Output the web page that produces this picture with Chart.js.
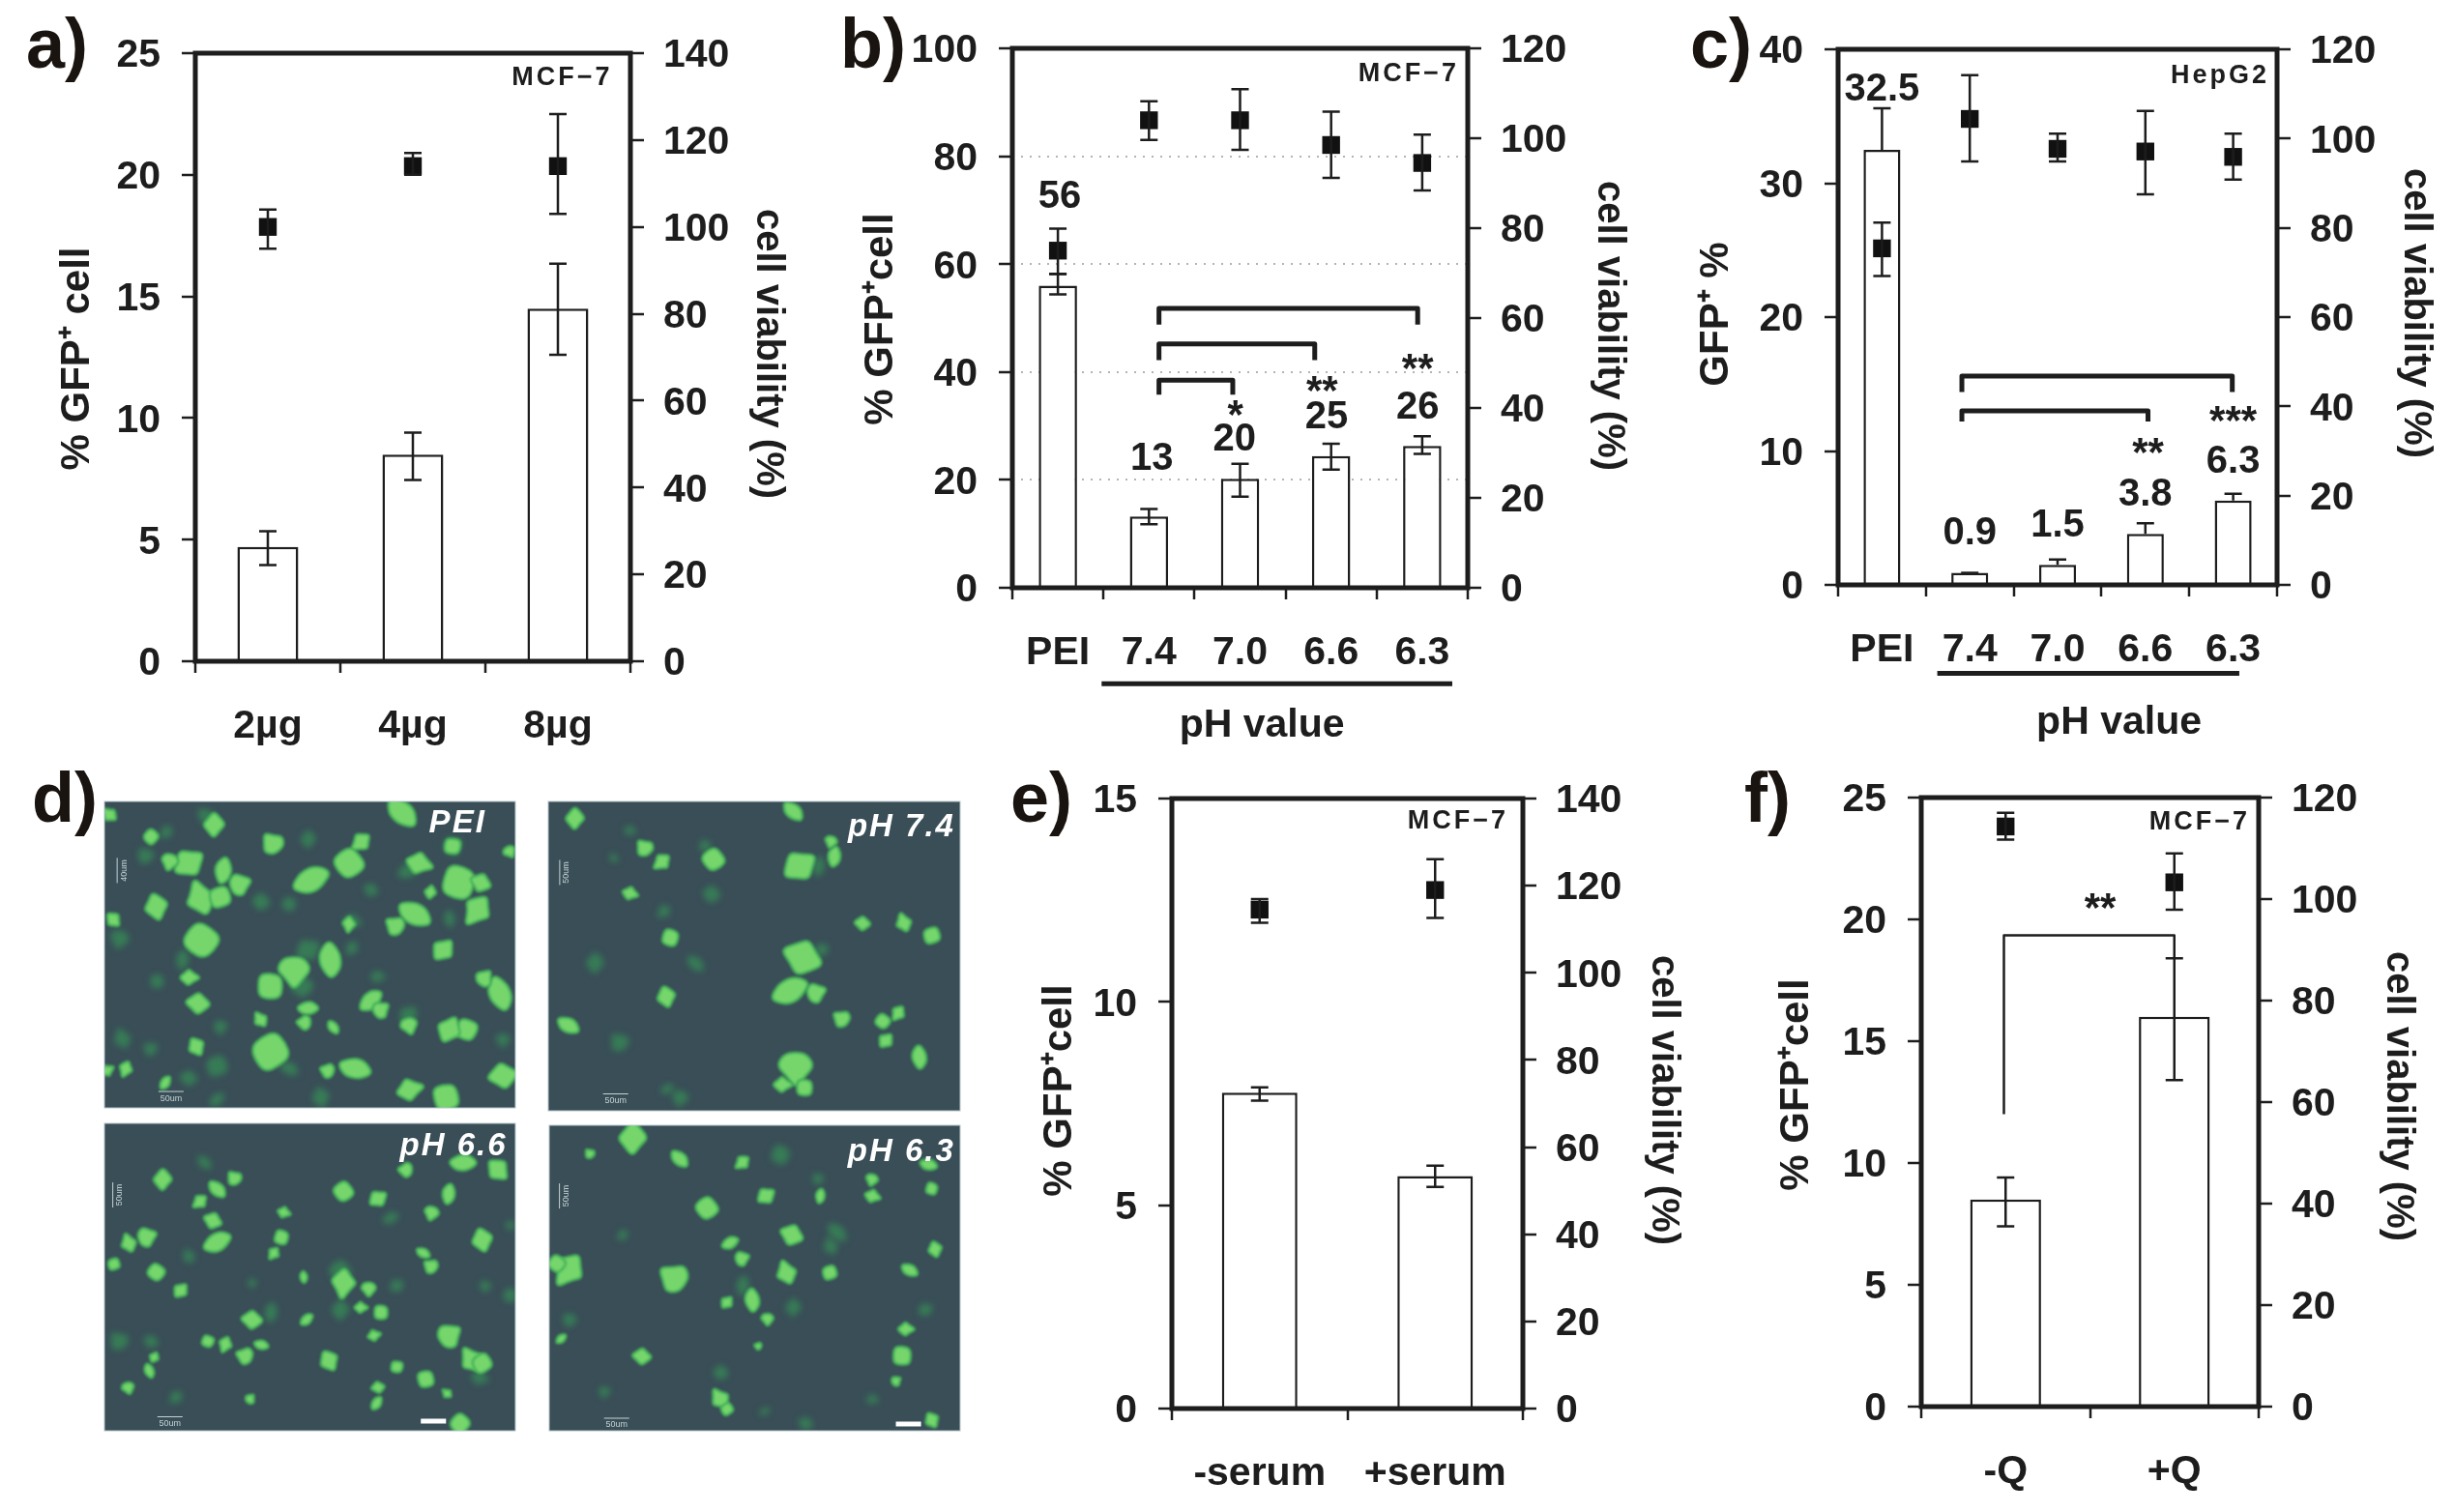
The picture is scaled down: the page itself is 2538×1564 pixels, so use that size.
<!DOCTYPE html>
<html><head><meta charset="utf-8">
<script src="https://cdn.jsdelivr.net/npm/chart.js@4/dist/chart.umd.js"></script>
<style>html,body{margin:0;padding:0;background:#fff;width:2538px;height:1564px;overflow:hidden}
canvas{position:absolute;left:0;top:0;pointer-events:none}</style>
</head><body>
<script>
// ---------- panel a ----------
const aCats=['2µg','4µg','8µg'];
const aGfp=[4.7,8.5,14.5], aGfpLow=[3.95,7.45,12.6], aGfpHigh=[5.35,9.4,16.35];
const aVia=[100,114,114], aViaLow=[95,112,103], aViaHigh=[104,117,126];
const aNotes=[['MCF−7',2.03,24,'cell']];
// ---------- panel b ----------
const bCats=['PEI','7.4','7.0','6.6','6.3'];
const bGfp=[56,13.2,20.2,24.4,26.3], bGfpLow=[54.4,11.8,16.9,21.9,24.8], bGfpHigh=[58.2,14.6,23,26.7,28.1];
const bVia=[75,104,104,98.5,94.5], bViaLow=[69.8,99.6,97.4,91.2,88.4], bViaHigh=[79.9,108.2,110.9,105.9,100.8];
const bNotes=[['MCF−7',3.85,95.2,'cell'],['56',0.02,73],['13',1.03,24.4],['20',1.94,27.9],['*',1.95,33],['25',2.95,32.1],['**',2.9,37.6],['26',3.95,33.8],['**',3.95,41.7],['pH value',2.24,-25.4]];
const bBrackets=[[1.11,3.95,51.8,48.8,48.8],[1.11,2.82,45.2,42.2,42.2],[1.11,1.92,38.5,35.8,35.8]];
const bRule=[0.48,4.33,-17.8];
// ---------- panel c ----------
const cCats=['PEI','7.4','7.0','6.6','6.3'];
const cGfp=[32.5,0.9,1.5,3.8,6.3], cGfpLow=[32.5,0.9,1.5,3.8,6.3], cGfpHigh=[35.6,0.9,1.9,4.6,6.8];
const cVia=[75.4,104.4,97.7,97.1,95.9], cViaLow=[69.2,94.9,94.9,87.5,90.8], cViaHigh=[81.2,114.2,101.1,106.2,101.1];
const cNotes=[['HepG2',3.85,38,'cell'],['32.5',0,37],['0.9',1,4.06],['1.5',2,4.6],['3.8',3,6.9],['**',3.03,10.3],['6.3',4,9.4],['***',4,12.7],['pH value',2.7,-10.2]];
const cBrackets=[[0.91,3.99,15.6,14.4,14.4],[0.91,3.03,13,12.2,12.2]];
const cRule=[0.63,4.07,-6.6];
// ---------- panel e ----------
const eCats=['-serum','+serum'];
const eGfp=[7.77,5.72], eGfpLow=[7.57,5.45], eGfpHigh=[7.9,5.97];
const eVia=[114.5,119], eViaLow=[111.5,112.6], eViaHigh=[116.9,126.1];
const eNotes=[['MCF−7',1.13,14.43,'cell']];
// ---------- panel f ----------
const fCats=['-Q','+Q'];
const fGfp=[8.5,16], fGfpLow=[7.4,13.4], fGfpHigh=[9.4,18.4];
const fVia=[114.3,103.3], fViaLow=[111.7,97.9], fViaHigh=[117,109];
const fNotes=[['MCF−7',1.15,24,'cell'],['**',0.56,20.7]];
const fBrackets=[[-0.01,1.0,19.35,12,18.4]];
const peiBright=[[340,145,9],[640,120,12],[435,185,9],[575,180,8],[555,225,12],[300,225,12],[355,240,9],[270,220,7],[665,225,10],[730,265,14],[765,265,8],[495,260,13],[380,270,9],[320,300,13],[350,295,9],[248,315,10],[660,330,12],[630,355,8],[760,320,12],[320,385,14],[705,405,9],[525,425,12],[467,445,13],[300,462,7],[430,480,11],[315,515,9],[590,510,9],[605,530,7],[415,550,6],[430,615,15],[312,605,7],[565,650,11],[522,655,6],[200,650,6],[742,570,9],[715,570,10],[795,495,12],[650,560,7],[650,695,10],[710,710,11],[800,665,11],[263,680,5],[770,465,7],[175,125,6],[240,170,6],[180,342,6],[490,525,7],[485,555,6],[555,350,6],[720,190,7],[685,285,5],[530,565,5],[810,200,5],[170,655,5]];
const peiDim=[[490,175,7],[330,130,8],[232,210,7],[265,160,6],[415,305,7],[490,405,10],[290,425,7],[190,380,8],[560,345,7],[460,310,6],[590,280,6],[650,240,8],[350,565,6],[195,590,8],[345,645,9],[510,710,8],[460,650,7],[240,610,6],[560,400,6],[480,480,9],[650,540,8],[715,340,6],[800,590,6],[600,460,6],[250,470,6],[300,670,7],[345,715,6],[720,190,8]];
const p74Bright=[[913,133,8],[1260,118,8],[1025,195,7],[1052,222,7],[1133,218,9],[1270,232,13],[1325,212,7],[1320,180,5],[1000,288,6],[1065,380,7],[1275,420,15],[1255,490,13],[1295,495,8],[1436,350,7],[1480,375,7],[1058,502,8],[903,561,8],[1338,548,7],[1427,535,6],[1402,553,6],[1407,593,6],[1460,627,8],[1263,645,14],[1242,684,7],[1278,690,7],[1370,350,6]];
const p74Dim=[[945,432,8],[1105,433,7],[985,597,8],[1055,325,6],[1130,290,7],[1305,405,6],[1300,232,7],[1080,710,7],[1000,158,5],[1120,190,5],[975,215,4],[1060,693,5]];
const p66Bright=[[258,880,8],[345,900,7],[373,878,6],[318,925,6],[545,905,8],[600,920,7],[712,910,7],[685,948,6],[450,948,5],[447,1000,6],[338,965,7],[345,1010,10],[232,1000,8],[205,1013,7],[181,1055,5],[765,1005,9],[672,1032,5],[685,1060,6],[435,1032,5],[248,1072,7],[287,1110,6],[482,1082,4],[585,1105,6],[572,1145,5],[605,1155,6],[400,1170,8],[487,1170,5],[712,1205,10],[750,1255,10],[765,1260,8],[522,1255,8],[415,1222,5],[390,1245,7],[358,1220,6],[330,1215,5],[245,1248,4],[237,1276,5],[203,1310,5],[593,1203,5],[676,1293,7],[600,1310,5],[598,1343,5],[397,1335,4],[710,1323,4],[730,1385,8],[790,860,9],[735,845,9],[645,860,6],[545,1092,11],[630,1268,5]];
const p66Dim=[[540,1150,8],[325,845,6],[190,1215,8],[280,1330,6],[540,1070,9],[630,1100,6],[430,1155,7],[770,1100,5],[760,1290,7],[810,1120,6],[240,1215,6],[620,960,6],[400,1095,4],[300,1040,6],[810,975,4]];
const p63Bright=[[1005,795,12],[1080,838,7],[938,828,4],[1180,845,6],[1123,940,9],[1217,915,7],[1303,915,5],[1385,880,5],[1385,915,6],[1480,900,5],[1258,995,9],[1160,1012,6],[1178,1045,6],[1250,1075,9],[1318,1073,6],[1485,1025,6],[1445,1068,6],[1073,1085,12],[905,1065,13],[885,1055,7],[1155,1135,5],[1195,1130,8],[1219,1168,5],[1438,1190,6],[1433,1245,8],[1020,1246,7],[892,1210,4],[1423,1298,4],[1145,1335,8],[1155,1355,5],[1480,1378,6],[1475,850,6],[1205,1225,3]];
const p63Dim=[[1260,1145,7],[1330,990,8],[1300,880,5],[990,995,5],[1145,1280,6],[1470,1150,6],[1180,1100,7],[905,1170,6],[1385,1335,5],[1240,830,8],[1280,1385,6],[1215,1360,4],[960,1320,5],[1320,1020,7]];
// outline templates for cell shapes (radius multipliers round the cell)
const cellOutlines=[[1.0,0.7,1.2,0.75,0.95,0.7,1.15,0.8],[1.3,0.8,0.7,0.9,1.3,0.75,0.7,0.85],[0.9,1.05,0.8,1.25,0.7,1.0,0.9,0.75],[1.4,0.65,0.9,0.7,1.05,0.65,0.95,0.7],[1.05,0.9,1.05,0.85,1.1,0.9,1.0,0.85]];

const W=2538,H=1564,INK='#1d1d1d',FONT='"Liberation Sans",Arial,sans-serif';
Chart.defaults.font.family=FONT;

function addCanvas(){const c=document.createElement('canvas');c.width=W;c.height=H;c.style.width=W+'px';c.style.height=H+'px';document.body.appendChild(c);return c;}

function cellSprite(outline,r,fill,edge){
  const R=r*1.35,s=Math.ceil(R*3.4)+6,c=document.createElement('canvas');c.width=s;c.height=s;
  const g=c.getContext('2d'),n=outline.length,pt=i=>{const a=i/n*Math.PI*2,d=outline[i%n]*R;return [s/2+Math.cos(a)*d,s/2+Math.sin(a)*d];};
  g.beginPath();
  for(let i=0;i<n;i++){const p=pt(i),q=pt(i+1),m=[(p[0]+q[0])/2,(p[1]+q[1])/2];
    if(i===0){const z=pt(n-1);g.moveTo((z[0]+p[0])/2,(z[1]+p[1])/2);}
    g.quadraticCurveTo(p[0],p[1],m[0],m[1]);}
  g.closePath();g.fillStyle=fill;g.fill();
  if(edge){g.strokeStyle=edge;g.lineWidth=2.5;g.stroke();}
  return c;
}

function txt(ctx,s,x,y,font,align,color,spacing){
  ctx.save();ctx.font=font;ctx.textAlign=align||'center';ctx.textBaseline='middle';ctx.fillStyle=color||INK;
  if(spacing)ctx.letterSpacing=spacing;ctx.fillText(s,x,y);ctx.restore();
}
function rotTxt(ctx,s,x,y,ang,font){
  ctx.save();ctx.translate(x,y);ctx.rotate(ang);txt(ctx,s,0,0,font);ctx.restore();
}

function panel(o){
  const {L,R,T,B}=o.box;
  const overlay={
    id:'overlay',
    afterDatasetsDraw(chart){
      const ctx=chart.ctx,xs=chart.scales.x,y=chart.scales.y,y1=chart.scales.y1;
      ctx.save();ctx.strokeStyle=INK;ctx.lineWidth=2.5;
      const err=(vals,lo,hi,scale,cap)=>vals.forEach((_,i)=>{
        const px=xs.getPixelForValue(i),a=scale.getPixelForValue(lo[i]),b=scale.getPixelForValue(hi[i]);
        ctx.beginPath();ctx.moveTo(px,a);ctx.lineTo(px,b);
        ctx.moveTo(px-cap,b);ctx.lineTo(px+cap,b);
        if(lo[i]!==vals[i]){ctx.moveTo(px-cap,a);ctx.lineTo(px+cap,a);}
        ctx.stroke();
      });
      err(o.gfp,o.gfpLow,o.gfpHigh,y,9);
      err(o.via,o.viaLow,o.viaHigh,y1,9);
      ctx.restore();
    },
    afterDraw(chart){
      const ctx=chart.ctx,xs=chart.scales.x,y=chart.scales.y,a=chart.chartArea;
      ctx.save();ctx.strokeStyle=INK;ctx.lineWidth=5;ctx.strokeRect(a.left,a.top,a.right-a.left,a.bottom-a.top);
      ctx.lineWidth=o.bracketWidth||5;ctx.lineJoin='round';
      (o.brackets||[]).forEach(b=>{
        const x0=xs.getPixelForValue(b[0]),x1=xs.getPixelForValue(b[1]);
        ctx.beginPath();ctx.moveTo(x0,y.getPixelForValue(b[3]));ctx.lineTo(x0,y.getPixelForValue(b[2]));
        ctx.lineTo(x1,y.getPixelForValue(b[2]));ctx.lineTo(x1,y.getPixelForValue(b[4]));ctx.stroke();
      });
      if(o.rule){ctx.lineWidth=5;ctx.beginPath();const ry=y.getPixelForValue(o.rule[2]);ctx.moveTo(xs.getPixelForValue(o.rule[0]),ry);ctx.lineTo(xs.getPixelForValue(o.rule[1]),ry);ctx.stroke();}
      ctx.restore();
      (o.notes||[]).forEach(n=>{
        const px=xs.getPixelForValue(n[1]);let py=y.getPixelForValue(n[2]);
        if(n[3]==='cell')txt(ctx,n[0],px,py,'bold 27px '+FONT,'center',INK,'3px');
        else if(/^\*+$/.test(n[0]))txt(ctx,n[0],px,py+8,'bold 42px '+FONT);
        else if(n[0]==='pH value')txt(ctx,n[0],px,py+1,'bold 41px '+FONT);
        else txt(ctx,n[0],px,n[0]==='32.5'?py:py+3,'bold 40px '+FONT);
      });
      rotTxt(ctx,o.leftTitle,o.ltx+3,o.lty,-Math.PI/2,'bold 42px '+FONT);
      rotTxt(ctx,'cell viability (%)',o.rtx,o.rty,Math.PI/2,'bold 40px '+FONT);
      txt(ctx,o.tag,o.tagX-3,o.tagY,'bold 72px '+FONT,'left','#1a1410');
    }
  };
  const yTicks=(max,step,pad)=>({min:0,max:max,ticks:{stepSize:step,color:INK,font:{size:41,weight:'bold'},padding:pad,autoSkip:false,maxRotation:0},
    afterFit(s){
      s.width=130;
      if(!s._labelShift){s._labelShift=true;const d=s.drawLabels;
        s.drawLabels=function(area){const c=this.ctx;c.save();c.translate(0,3);d.call(this,area);c.restore();};}
    }});
  const yLeft=yTicks(o.leftMax,o.leftStep,22);
  yLeft.position='left';
  yLeft.border={display:false,dash:o.dotted?[2,7]:undefined};
  yLeft.grid={drawOnChartArea:!!o.dotted,color:'#b4b4b4',lineWidth:2,tickColor:INK,tickWidth:2.5,tickLength:14,tickBorderDash:[]};
  const yRight=yTicks(o.rightMax,o.rightStep,20);
  yRight.position='right';
  yRight.border={display:false};
  yRight.grid={drawOnChartArea:false,color:INK,tickColor:INK,lineWidth:2,tickWidth:2.5,tickLength:14};
  new Chart(addCanvas(),{
    type:'bar',
    data:{labels:o.cats,datasets:[
      {type:'line',label:'cell viability (%)',data:o.via,yAxisID:'y1',showLine:false,pointStyle:'rect',pointRadius:13,pointHoverRadius:13,pointBackgroundColor:'#111',pointBorderColor:'#111',pointBorderWidth:0,order:0},
      {type:'bar',label:'GFP+ cell',data:o.gfp,yAxisID:'y',backgroundColor:'#fff',borderColor:INK,borderWidth:2.5,barPercentage:o.barPct||0.42,categoryPercentage:1,order:1}
    ]},
    options:{
      responsive:false,animation:false,devicePixelRatio:1,
      layout:{padding:{left:L-130,right:W-R-130,top:T,bottom:H-B-100}},
      plugins:{legend:{display:false},tooltip:{enabled:false},title:{display:false}},
      scales:{
        x:{type:'category',offset:true,border:{display:false},
           grid:{offset:true,drawOnChartArea:false,color:INK,tickColor:INK,tickWidth:2.5,lineWidth:2,tickLength:12},
           ticks:{color:INK,font:{size:o.xFont||41,weight:'bold'},padding:o.xPad||31,autoSkip:false,maxRotation:0,minRotation:0},
           afterFit(s){s.height=100;}},
        y:yLeft,y1:yRight
      }
    },
    plugins:[overlay]
  });
}

function micrograph(o){
  const {L,R,T,B}=o.box;
  const deco={
    id:'deco',
    beforeDatasetsDraw(chart){const a=chart.chartArea,c=chart.ctx;c.save();c.fillStyle='#394e57';c.fillRect(a.left,a.top,a.right-a.left,a.bottom-a.top);c.restore();},
    beforeDatasetDraw(chart,args){chart.ctx.save();chart.ctx.filter=args.index===0?'blur(3px)':'blur(1.2px)';},
    afterDatasetDraw(chart){chart.ctx.restore();},
    afterDraw(chart){
      const c=chart.ctx,xs=chart.scales.x,ys=chart.scales.y,a=chart.chartArea;
      c.save();c.strokeStyle='#b7c6cc';c.lineWidth=1;c.strokeRect(a.left,a.top,a.right-a.left,a.bottom-a.top);c.restore();
      const lx=xs.getPixelForValue(o.label[1]),ly=ys.getPixelForValue(o.label[2]);
      txt(c,o.label[0],lx,ly,'italic bold 33px '+FONT,'center','#fff','2px');
      const sx=xs.getPixelForValue(o.scaleText[0]),sy=ys.getPixelForValue(o.scaleText[1]);
      txt(c,'50um',sx,sy,'9px '+FONT,'center','#c5d3d6');
      c.save();c.strokeStyle='#c5d3d6';c.lineWidth=1;c.beginPath();c.moveTo(sx-13,sy-7);c.lineTo(sx+13,sy-7);c.stroke();c.restore();
      const vx=xs.getPixelForValue(o.scaleSide[0]),vy=ys.getPixelForValue(o.scaleSide[1]);
      c.save();c.translate(vx,vy);c.rotate(-Math.PI/2);txt(c,o.scaleSide[2],0,0,'9px '+FONT,'center','#c5d3d6');c.strokeStyle='#c5d3d6';c.lineWidth=1;c.beginPath();c.moveTo(-13,-7);c.lineTo(13,-7);c.stroke();c.restore();
      if(o.bar){const x0=xs.getPixelForValue(o.bar[0]),x1=xs.getPixelForValue(o.bar[1]),by=ys.getPixelForValue(o.bar[2]);c.save();c.fillStyle='#fff';c.fillRect(x0,by-2.5,x1-x0,5);c.restore();}
      if(o.tag)txt(c,o.tag,o.tagX-3,o.tagY,'bold 72px '+FONT,'left','#1a1410');
    }
  };
  const pts=a=>a.map(p=>({x:p[0],y:p[1],r:p[2]}));
  const brightStyle=ctx=>{const p=ctx.raw;return p?cellSprite(cellOutlines[ctx.dataIndex%cellOutlines.length],p.r,'#76d66c','#47b35a'):'circle';};
  const dimStyle=ctx=>{const p=ctx.raw;return p?cellSprite(cellOutlines[ctx.dataIndex%cellOutlines.length],p.r,'rgba(54,132,86,0.85)',null):'circle';};
  const turnOf=ctx=>(ctx.dataIndex*47)%360;
  new Chart(addCanvas(),{
    type:'bubble',
    data:{datasets:[
      {label:'dim',data:pts(o.dim),backgroundColor:'rgba(52,130,85,0.8)',borderWidth:0,order:1,pointStyle:dimStyle,rotation:turnOf},
      {label:'bright',data:pts(o.bright),backgroundColor:'#74d56a',borderColor:'#45b358',borderWidth:0,order:0,pointStyle:brightStyle,rotation:turnOf}
    ]},
    options:{responsive:false,animation:false,devicePixelRatio:1,
      layout:{padding:{left:L,right:W-R,top:T,bottom:H-B}},
      plugins:{legend:{display:false},tooltip:{enabled:false}},
      scales:{x:{display:false,min:o.xr[0],max:o.xr[1]},y:{display:false,reverse:true,min:o.yr[0],max:o.yr[1]}}
    },
    plugins:[deco]
  });
}

panel({box:{L:202,R:652,T:55,B:684},cats:aCats,gfp:aGfp,gfpLow:aGfpLow,gfpHigh:aGfpHigh,via:aVia,viaLow:aViaLow,viaHigh:aViaHigh,
  leftMax:25,leftStep:5,rightMax:140,rightStep:20,notes:aNotes,leftTitle:'% GFP⁺ cell',ltx:77,lty:371,rtx:794,rty:366,tag:'a)',tagX:30,tagY:50});
panel({box:{L:1047,R:1518,T:50,B:608},cats:bCats,gfp:bGfp,gfpLow:bGfpLow,gfpHigh:bGfpHigh,via:bVia,viaLow:bViaLow,viaHigh:bViaHigh,
  leftMax:100,leftStep:20,rightMax:120,rightStep:20,dotted:true,notes:bNotes,brackets:bBrackets,rule:bRule,leftTitle:'% GFP⁺cell',ltx:908,lty:330,rtx:1664,rty:337,tag:'b)',tagX:872,tagY:50});
panel({box:{L:1901,R:2355,T:51,B:605},cats:cCats,gfp:cGfp,gfpLow:cGfpLow,gfpHigh:cGfpHigh,via:cVia,viaLow:cViaLow,viaHigh:cViaHigh,
  leftMax:40,leftStep:10,rightMax:120,rightStep:20,notes:cNotes,brackets:cBrackets,rule:cRule,leftTitle:'GFP⁺ %',ltx:1772,lty:325,rtx:2498,rty:324,tag:'c)',tagX:1751,tagY:50});
panel({box:{L:1212,R:1575,T:826,B:1457},cats:eCats,gfp:eGfp,gfpLow:eGfpLow,gfpHigh:eGfpHigh,via:eVia,viaLow:eViaLow,viaHigh:eViaHigh,barPct:0.43,
  leftMax:15,leftStep:5,rightMax:140,rightStep:20,notes:eNotes,leftTitle:'% GFP⁺cell',ltx:1093,lty:1128,rtx:1720,rty:1138,tag:'e)',tagX:1048,tagY:830,xFont:41,xPad:31});
panel({box:{L:1987,R:2336,T:825,B:1455},cats:fCats,gfp:fGfp,gfpLow:fGfpLow,gfpHigh:fGfpHigh,via:fVia,viaLow:fViaLow,viaHigh:fViaHigh,
  leftMax:25,leftStep:5,rightMax:120,rightStep:20,notes:fNotes,brackets:fBrackets,bracketWidth:2.5,leftTitle:'% GFP⁺cell',ltx:1855,lty:1122,rtx:2480,rty:1134,tag:'f)',tagX:1807,tagY:830,xPad:31});

micrograph({box:{L:108,R:533,T:829,B:1146},xr:[166,820],yr:[97,732],bright:peiBright,dim:peiDim,label:['PEI',728,142],scaleText:[272,712],scaleSide:[197,240,'40um'],tag:'d)',tagX:36,tagY:830});
micrograph({box:{L:567,R:993,T:829,B:1149},xr:[871,1525],yr:[98,738],bright:p74Bright,dim:p74Dim,label:['pH 7.4',1432,152],scaleText:[978,717],scaleSide:[900,245,'50um']});
micrograph({box:{L:108,R:533,T:1162,B:1480},xr:[166,818],yr:[764,1400],bright:p66Bright,dim:p66Dim,label:['pH 6.6',720,812],scaleText:[270,1385],scaleSide:[190,912,'50um'],bar:[668,708,1380]});
micrograph({box:{L:568,R:993,T:1164,B:1480},xr:[873,1525],yr:[769,1400],bright:p63Bright,dim:p63Dim,label:['pH 6.3',1432,825],scaleText:[980,1388],scaleSide:[900,915,'50um'],bar:[1423,1463,1386]});
</script>
</body></html>
